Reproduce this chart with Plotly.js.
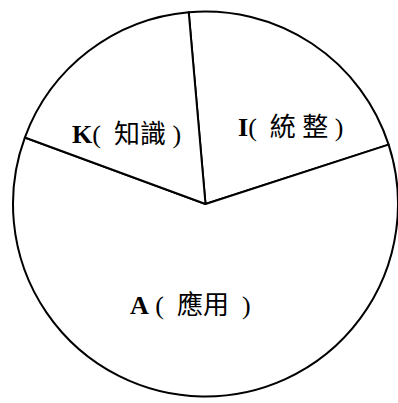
<!DOCTYPE html>
<html>
<head>
<meta charset="utf-8">
<script src="https://cdn.plot.ly/plotly-3.0.1.min.js"></script>
<style>
  html, body { margin: 0; padding: 0; background: #fff; }
  #chart { width: 398px; height: 403px; }
</style>
</head>
<body>
<div id="chart"></div>
<script>
// shares (percent of the circle)
var labels = ['I(  統 整 )', 'A (  應用  )', 'K(  知識 )'];
var shares = [21.4, 60.6, 18.0];

// where each label sits, in paper fractions
var labelX = [0.722, 0.46, 0.294];
var labelY = [0.699, 0.236, 0.681];

var font = {
    family: '"Liberation Serif", "Noto Sans CJK TC", serif',
    size: 26,
    color: '#000000'
};

var data = [{
    type: 'pie',
    labels: labels,
    values: shares,
    textinfo: 'none',
    sort: false,
    direction: 'clockwise',
    rotation: -5,
    hoverinfo: 'none',
    marker: {
        colors: ['#ffffff', '#ffffff', '#ffffff'],
        line: { color: '#000000', width: 2 }
    }
}];

Plotly.newPlot('chart', data, {
    width: 398,
    height: 403,
    margin: { l: 13, r: 0, t: 11, b: 6 },
    showlegend: false,
    paper_bgcolor: '#ffffff',
    annotations: labels.map((l, i) => ({
        // the latin letter is printed bold in the original
        text: l.replace(/^([A-Z])/, '<b>$1</b>'),
        xref: 'paper',
        yref: 'paper',
        x: labelX[i],
        y: labelY[i],
        xanchor: 'center',
        yanchor: 'middle',
        showarrow: false,
        font: font
    }))
}, { staticPlot: true });
</script>
</body>
</html>
